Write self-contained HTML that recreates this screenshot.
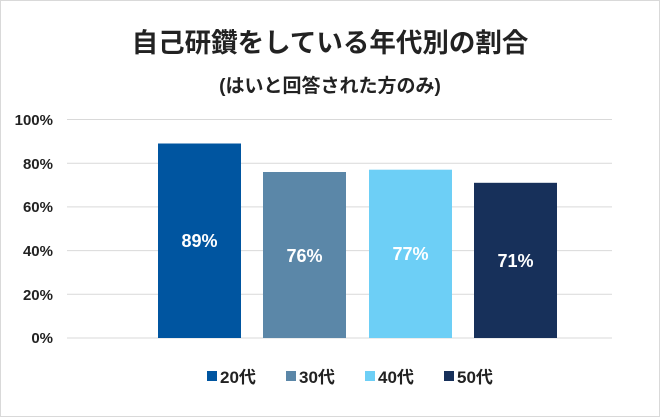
<!DOCTYPE html>
<html><head><meta charset="utf-8"><style>
body{margin:0;background:#fff}
</style></head><body>
<svg width="660" height="417" xmlns="http://www.w3.org/2000/svg" style="display:block;font-family:'Liberation Sans','Noto Sans CJK JP',sans-serif">
<rect x="0.5" y="0.5" width="659" height="416" fill="#fff" stroke="#d9d9d9"/>
<text x="330" y="52" text-anchor="middle" font-size="26.5" font-weight="bold" fill="#222">自己研鑽をしている年代別の割合</text>
<text x="330" y="92" text-anchor="middle" font-size="19" font-weight="bold" fill="#222">(はいと回答された方のみ)</text>
<g stroke="#d9d9d9" stroke-width="1">
<line x1="67" x2="612" y1="119.5" y2="119.5"/>
<line x1="67" x2="612" y1="163.2" y2="163.2"/>
<line x1="67" x2="612" y1="206.9" y2="206.9"/>
<line x1="67" x2="612" y1="250.6" y2="250.6"/>
<line x1="67" x2="612" y1="294.3" y2="294.3"/>
<line x1="67" x2="612" y1="338" y2="338"/>
</g>
<g font-size="15" font-weight="bold" fill="#222" text-anchor="end">
<text x="53" y="125">100%</text>
<text x="53" y="169">80%</text>
<text x="53" y="212">60%</text>
<text x="53" y="256">40%</text>
<text x="53" y="300">20%</text>
<text x="53" y="343">0%</text>
</g>
<rect x="158" y="143.5" width="83" height="194.5" fill="#0055A0"/>
<rect x="263" y="172" width="83" height="166" fill="#5B87A8"/>
<rect x="369" y="169.7" width="83" height="168.3" fill="#6DCFF6"/>
<rect x="474" y="182.8" width="83" height="155.2" fill="#17305A"/>
<g font-size="18" font-weight="bold" fill="#fff" text-anchor="middle">
<text x="199.5" y="247">89%</text>
<text x="304.5" y="262">76%</text>
<text x="410.5" y="260">77%</text>
<text x="515.5" y="267">71%</text>
</g>
<rect x="207" y="371" width="10" height="10" fill="#0055A0"/>
<rect x="286" y="371" width="10" height="10" fill="#5B87A8"/>
<rect x="365" y="371" width="10" height="10" fill="#6DCFF6"/>
<rect x="444" y="371" width="10" height="10" fill="#17305A"/>
<g font-size="17" font-weight="bold" fill="#222">
<text x="220" y="383">20代</text>
<text x="299" y="383">30代</text>
<text x="378" y="383">40代</text>
<text x="457" y="383">50代</text>
</g>
</svg>
</body></html>
